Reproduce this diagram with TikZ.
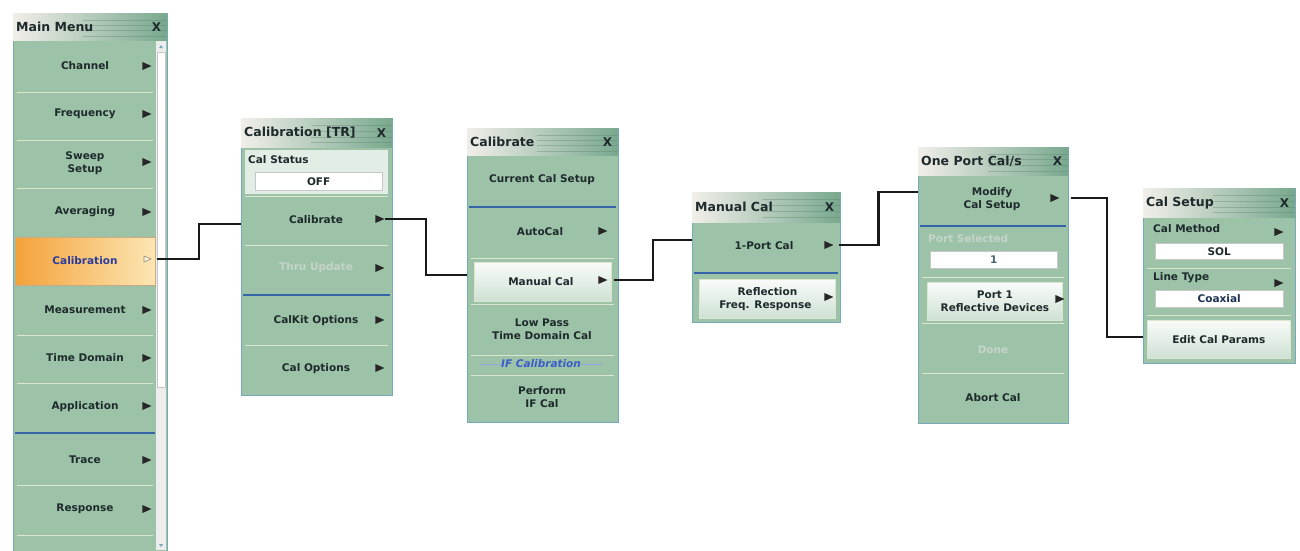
\documentclass[tikz,border=0pt]{standalone}
\usepackage{fontspec}
\setmainfont{DejaVu Sans}[BoldItalicFont={DejaVu Sans Bold Oblique}]
\usetikzlibrary{calc,%
		positioning,%
		shapes.geometric}

\definecolor{btngreen}{HTML}{9CC3A8}
\definecolor{btnline}{HTML}{DCE6CF}
\definecolor{edgeblue}{HTML}{74AABC}
\definecolor{sepblue}{HTML}{3565A8}
\definecolor{txtdark}{HTML}{1E2A2C}
\definecolor{txtgray}{HTML}{C6D4CA}
\definecolor{titleL}{HTML}{F1EEE9}
\definecolor{titleR}{HTML}{78A88E}
\definecolor{calblue}{HTML}{2B3D9C}
\definecolor{ifblue}{HTML}{3A5CC8}
\definecolor{orangeL}{HTML}{F4A23A}
\definecolor{orangeR}{HTML}{FCE6B4}

\tikzset{
	panel/.style={draw=edgeblue, line width=1.4pt, fill=btngreen, anchor=north west, inner sep=0pt},
	bar/.style={left color=titleL, right color=titleR, anchor=north west, inner sep=0pt,
		path picture={
			\draw[titleR!75!black, opacity=.35, line width=.8pt]
			($(path picture bounding box.north west)!.25!(path picture bounding box.south west)+(70,0)$) -- ($(path picture bounding box.north east)!.25!(path picture bounding box.south east)$)
			($(path picture bounding box.north west)!.45!(path picture bounding box.south west)+(70,0)$) -- ($(path picture bounding box.north east)!.45!(path picture bounding box.south east)$)
			($(path picture bounding box.north west)!.65!(path picture bounding box.south west)+(70,0)$) -- ($(path picture bounding box.north east)!.65!(path picture bounding box.south east)$)
			($(path picture bounding box.north west)!.85!(path picture bounding box.south west)+(70,0)$) -- ($(path picture bounding box.north east)!.85!(path picture bounding box.south east)$);}},
	ttl/.style={font=\fontsize{12.5}{14}\selectfont\bfseries, text=txtdark, inner sep=0pt},
	cls/.style={font=\fontsize{12}{14}\selectfont\bfseries, text=txtdark, inner sep=0pt},
	item/.style={font=\fontsize{10.5}{13}\selectfont\bfseries, text=txtdark, align=center, inner sep=0pt},
	dim/.style={item, text=txtgray},
	lbl/.style={item, anchor=west},
	sep/.style={draw=btnline, line width=1pt},
	bsep/.style={draw=sepblue, line width=2pt},
	hot/.style={item, draw=btnline, line width=.8pt, top color=white!94!btngreen, bottom color=btngreen!50!white, anchor=north west},
	vbox/.style={item, draw=black!22, fill=white, anchor=north west},
	orangebtn/.style={item, text=calblue, left color=orangeL, right color=orangeR, draw=orangeL!70!black!60, line width=.6pt, anchor=north west},
	tri/.style={isosceles triangle, isosceles triangle stretches, fill=black!85, inner sep=0pt, minimum width=8pt, minimum height=9pt},
	link/.style={draw=black!90, line width=2.8pt}
}

\begin{document}
\begin{tikzpicture}[x=1pt,y=-1pt]
\useasboundingbox[fill=white] (0,0) rectangle (1300,550);

% Main Menu
\node[panel, minimum width=154pt, minimum height=545pt] (mm) at (13,13) {};
\node[bar, minimum width=154pt, minimum height=27pt] (mmbar) at (13,13) {};
\node[ttl, right=3pt of mmbar.west] (mmttl) {Main Menu};
\node[cls, left=6pt of mmbar.east] (mmx) {X};
\fill[black!7] (156,41) rectangle (166,550);
\draw[black!22, fill=white] (157,52) rectangle (165,387);
\fill[edgeblue] (159,48) -- (163,48) -- (161,45) -- cycle;
\fill[edgeblue] (159,544) -- (163,544) -- (161,547) -- cycle;
\draw[sep] (17,92) -- (153,92) (17,140) -- (153,140) (17,188) -- (153,188)
	(17,335) -- (153,335) (17,383) -- (153,383) (17,485) -- (153,485) (17,535) -- (153,535);
\draw[bsep] (15,433) -- (155,433);
\node[orangebtn, minimum width=140pt, minimum height=48pt] (calbtn) at (15,237) {};

\node[item] (chan) at (85,66) {Channel};
\node[item] (freq) at (85,114) {Frequency};
\node[item] (swp) at (85,163) {Sweep\\Setup};
\node[item] (avg) at (85,212) {Averaging};
\node[item, text=calblue] (cal) at (85,261) {Calibration};
\node[item] (meas) at (85,310) {Measurement};
\node[item] (tdom) at (85,358) {Time Domain};
\node[item] (appl) at (85,407) {Application};
\node[item] (trc) at (85,460) {Trace};
\node[item] (resp) at (85,509) {Response};

\node[tri] (tchan) at (145,66) {};
\node[tri] (tfreq) at (145,114) {};
\node[tri] (tswp) at (145,162) {};
\node[tri] (tavg) at (145,212) {};
\node[tri, fill=orangeR!60!white, draw=black!45, line width=.6pt, minimum width=6pt, minimum height=7pt] (tcal) at (146,259) {};
\node[tri] (tmeas) at (145,310) {};
\node[tri] (ttdom) at (145,358) {};
\node[tri] (tappl) at (145,406) {};
\node[tri] (ttrc) at (145,460) {};
\node[tri] (tresp) at (145,509) {};

% Calibration [TR]
\node[panel, minimum width=151pt, minimum height=277pt] (ctr) at (241,118) {};
\node[bar, minimum width=151pt, minimum height=29pt] (ctrbar) at (241,118) {};
\node[ttl, right=3pt of ctrbar.west] (ctrttl) {Calibration [TR]};
\node[cls, left=6pt of ctrbar.east] (ctrx) {X};
\fill[btngreen!30!white] (245,150) rectangle (388,194);
\node[lbl] (statl) at (248,160) {Cal Status};
\node[vbox, minimum width=127pt, minimum height=18pt] (off) at (255,172) {OFF};
\draw[sep] (245,196) -- (388,196) (245,245) -- (388,245) (245,345) -- (388,345);
\draw[bsep] (243,295) -- (390,295);
\node[item] (calb) at (316,220) {Calibrate};
\node[dim] (thru) at (316,268) {Thru Update};
\node[item] (kit) at (316,321) {CalKit Options};
\node[item] (copt) at (316,369) {Cal Options};
\node[tri] (tcalb) at (378,219) {};
\node[tri] (tthru) at (378,268) {};
\node[tri] (tkit) at (378,320) {};
\node[tri] (tcopt) at (378,368) {};

% Calibrate
\node[panel, minimum width=151pt, minimum height=294pt] (clb) at (467,128) {};
\node[bar, minimum width=151pt, minimum height=27pt] (clbbar) at (467,128) {};
\node[ttl, right=3pt of clbbar.west] (clbttl) {Calibrate};
\node[cls, left=6pt of clbbar.east] (clbx) {X};
\draw[bsep] (469,207) -- (616,207);
\draw[sep] (471,258) -- (614,258) (471,304) -- (614,304) (471,355) -- (614,355) (471,375) -- (614,375);
\node[item] (cur) at (542,180) {Current Cal Setup};
\node[item] (auto) at (540,232) {AutoCal};
\node[tri] (tauto) at (601,231) {};
\node[hot, minimum width=137pt, minimum height=39pt] (man) at (474,262) {Manual Cal\hspace*{4pt}};
\node[tri] (tman) at (601,280) {};
\node[item] (lowp) at (542,329) {Low Pass\\Time Domain Cal};
\node[item, font=\fontsize{10.5}{12}\selectfont\bfseries\itshape, text=ifblue] (ifc) at (541,364) {IF Calibration};
\draw[ifblue!55, line width=.8pt] (480,364) -- (ifc.west) (ifc.east) -- (603,364);
\node[item] (perf) at (542,397) {Perform\\IF Cal};

% Manual Cal
\node[panel, minimum width=148pt, minimum height=130pt] (mcl) at (692,192) {};
\node[bar, minimum width=148pt, minimum height=30pt] (mclbar) at (692,192) {};
\node[ttl, right=3pt of mclbar.west] (mclttl) {Manual Cal};
\node[cls, left=6pt of mclbar.east] (mclx) {X};
\draw[bsep] (694,273) -- (838,273);
\node[item] (onep) at (764,246) {1-Port Cal};
\node[tri] (tonep) at (827,245) {};
\node[hot, minimum width=136pt, minimum height=39pt] (refl) at (699,279) {Reflection\\Freq. Response\hspace*{4pt}};
\node[tri] (trefl) at (827,297) {};

% One Port Cal/s
\node[panel, minimum width=150pt, minimum height=276pt] (opc) at (918,147) {};
\node[bar, minimum width=150pt, minimum height=28pt] (opcbar) at (918,147) {};
\node[ttl, right=3pt of opcbar.west] (opcttl) {One Port Cal/s};
\node[cls, left=6pt of opcbar.east] (opcx) {X};
\draw[bsep] (920,226) -- (1066,226);
\draw[sep] (922,277) -- (1064,277) (922,323) -- (1064,323) (922,373) -- (1064,373);
\node[item] (mod) at (992,199) {Modify\\Cal Setup};
\node[tri] (tmod) at (1053,198) {};
\node[dim, anchor=west] (psel) at (928,239) {Port Selected};
\node[vbox, minimum width=127pt, minimum height=17pt, text=edgeblue!60!black] (pone) at (930,251) {1};
\node[hot, minimum width=135pt, minimum height=38pt] (prd) at (927,282) {Port 1\\Reflective Devices};
\node[tri] (tprd) at (1058,299) {};
\node[dim] (done) at (993,350) {Done};
\node[item] (abrt) at (993,398) {Abort Cal};

% Cal Setup
\node[panel, minimum width=152pt, minimum height=175pt] (cst) at (1143,188) {};
\node[bar, minimum width=152pt, minimum height=29pt] (cstbar) at (1143,188) {};
\node[ttl, right=3pt of cstbar.west] (cstttl) {Cal Setup};
\node[cls, left=6pt of cstbar.east] (cstx) {X};
\node[lbl] (meth) at (1153,229) {Cal Method};
\node[tri] (tmeth) at (1277,232) {};
\node[vbox, minimum width=128pt, minimum height=16pt] (sol) at (1155,243) {SOL};
\draw[sep] (1147,268) -- (1291,268) (1147,315) -- (1291,315);
\node[lbl] (ltyp) at (1153,278) {Line Type};
\node[tri] (tltyp) at (1277,283) {};
\node[vbox, minimum width=128pt, minimum height=17pt, text=sepblue!50!black] (coax) at (1155,290) {Coaxial};
\node[hot, minimum width=143pt, minimum height=38pt] (edit) at (1147,320) {Edit Cal Params};

% connectors
\coordinate (in1) at (241,224);
\coordinate (in2) at (467,275);
\coordinate (in3) at (692,240);
\coordinate (in4) at (918,192);
\coordinate (in5) at (1143,337);
\draw[link] ([xshift=5pt]tcal.east) -| ($([xshift=5pt]tcal.east)!.5!(in1)$) |- (in1);
\draw[link] (tcalb.east) -| ($(tcalb.east)!.5!(in2)$) |- (in2);
\draw[link] ([xshift=6pt]tman.east) -| ($([xshift=6pt]tman.east)!.5!(in3)$) |- (in3);
\draw[link] ([xshift=5pt]tonep.east) -| ($([xshift=5pt]tonep.east)!.5!(in4)$) |- (in4);
\draw[link] ([xshift=11pt]tmod.east) -| ($([xshift=11pt]tmod.east)!.5!(in5)$) |- (in5);

\end{tikzpicture}
\end{document}
